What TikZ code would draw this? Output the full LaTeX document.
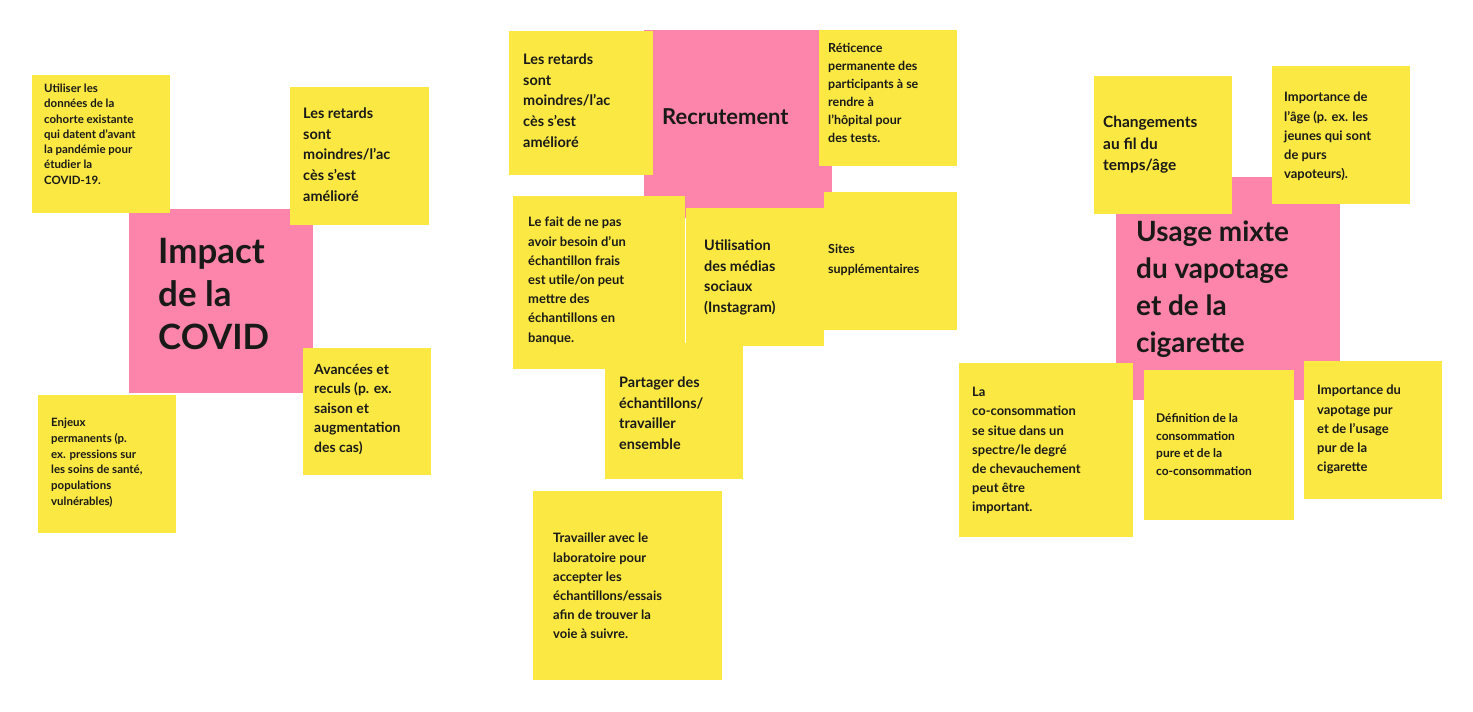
\documentclass[tikz,border=0pt]{standalone}
\usepackage{fontspec}
\setmainfont{Lato}
\definecolor{ny}{HTML}{FBE843}
\definecolor{np}{HTML}{FD85AB}
\tikzset{x=1bp,y=-1bp,
 txt/.style={anchor=north west,inner sep=0pt,align=left,font=\bfseries,text=black!90}}
\newcommand{\nbox}[5]{\fill[#5] (#1,#2) rectangle (#3,#4);}
\begin{document}
\begin{tikzpicture}
\useasboundingbox (0,0) rectangle (1473,712);
% left
\nbox{129}{209}{313}{393}{np}
\node[txt,font=\bfseries\fontsize{35}{43}\selectfont] (t1) at (158,238) {Impact\\de la\\COVID};
\nbox{32}{75}{170}{213}{ny}
\node[txt,font=\bfseries\fontsize{11.5}{15.3}\selectfont] (t2) at (44,84) {Utiliser les\\données de la\\cohorte existante\\qui datent d'avant\\la pandémie pour\\étudier la\\COVID-19.};
\nbox{290}{87}{429}{225}{ny}
\node[txt,font=\bfseries\fontsize{14.5}{20.6}\selectfont] (t3) at (303,108) {Les retards\\sont\\moindres/l'ac\\cès s'est\\amélioré};
\nbox{303}{348}{431}{475}{ny}
\node[txt,font=\bfseries\fontsize{14}{19.5}\selectfont] (t4) at (314,364) {Avancées et\\reculs (p. ex.\\saison et\\augmentation\\des cas)};
\nbox{38}{395}{176}{533}{ny}
\node[txt,font=\bfseries\fontsize{11.5}{15.8}\selectfont] (t5) at (51,418) {Enjeux\\permanents (p.\\ex. pressions sur\\les soins de santé,\\populations\\vulnérables)};
% middle
\nbox{644}{30}{832}{218}{np}
\node[txt,font=\bfseries\fontsize{22}{26}\selectfont] (t6) at (662,108) {Recrutement};
\nbox{509}{31}{653}{175}{ny}
\node[txt,font=\bfseries\fontsize{14.5}{20.6}\selectfont] (t7) at (523,54) {Les retards\\sont\\moindres/l'ac\\cès s'est\\amélioré};
\nbox{819}{30}{957}{166}{ny}
\node[txt,font=\bfseries\fontsize{12.5}{18}\selectfont] (t8) at (828,43) {Réticence\\permanente des\\participants à se\\rendre à\\l'hôpital pour\\des tests.};
\nbox{824}{192}{957}{330}{ny}
\node[txt,font=\bfseries\fontsize{12.5}{20}\selectfont] (t9) at (828,244) {Sites\\supplémentaires};
\nbox{513}{196}{685}{369}{ny}
\node[txt,font=\bfseries\fontsize{13}{19.3}\selectfont] (t10) at (528,217) {Le fait de ne pas\\avoir besoin d'un\\échantillon frais\\est utile/on peut\\mettre des\\échantillons en\\banque.};
\nbox{686}{208}{824}{346}{ny}
\node[txt,font=\bfseries\fontsize{14.5}{20.6}\selectfont] (t11) at (704,240) {Utilisation\\des médias\\sociaux\\(Instagram)};
\nbox{605}{343}{743}{479}{ny}
\node[txt,font=\bfseries\fontsize{14.5}{20.6}\selectfont] (t12) at (619,377) {Partager des\\échantillons/\\travailler\\ensemble};
\nbox{533}{491}{722}{680}{ny}
\node[txt,font=\bfseries\fontsize{13}{19.3}\selectfont] (t13) at (553,533) {Travailler avec le\\laboratoire pour\\accepter les\\échantillons/essais\\afin de trouver la\\voie à suivre.};
% right
\nbox{1116}{177}{1340}{400}{np}
\node[txt,font=\bfseries\fontsize{28}{37}\selectfont] (t14) at (1136,221) {Usage mixte\\du vapotage\\et de la\\cigarette};
\nbox{1094}{76}{1232}{214}{ny}
\node[txt,font=\bfseries\fontsize{15.5}{21.5}\selectfont] (t15) at (1103,116) {Changements\\au fil du\\temps/âge};
\nbox{1272}{66}{1410}{204}{ny}
\node[txt,font=\bfseries\fontsize{13}{19.3}\selectfont] (t16) at (1284,92) {Importance de\\l'âge (p. ex. les\\jeunes qui sont\\de purs\\vapoteurs).};
\nbox{959}{363}{1133}{537}{ny}
\node[txt,font=\bfseries\fontsize{13}{19.3}\selectfont] (t17) at (972,387) {La\\co-consommation\\se situe dans un\\spectre/le degré\\de chevauchement\\peut être\\important.};
\nbox{1144}{370}{1294}{520}{ny}
\node[txt,font=\bfseries\fontsize{12}{18}\selectfont] (t18) at (1156,413) {Définition de la\\consommation\\pure et de la\\co-consommation};
\nbox{1304}{361}{1442}{499}{ny}
\node[txt,font=\bfseries\fontsize{13}{19.3}\selectfont] (t19) at (1317,385) {Importance du\\vapotage pur\\et de l'usage\\pur de la\\cigarette};
\end{tikzpicture}
\end{document}
